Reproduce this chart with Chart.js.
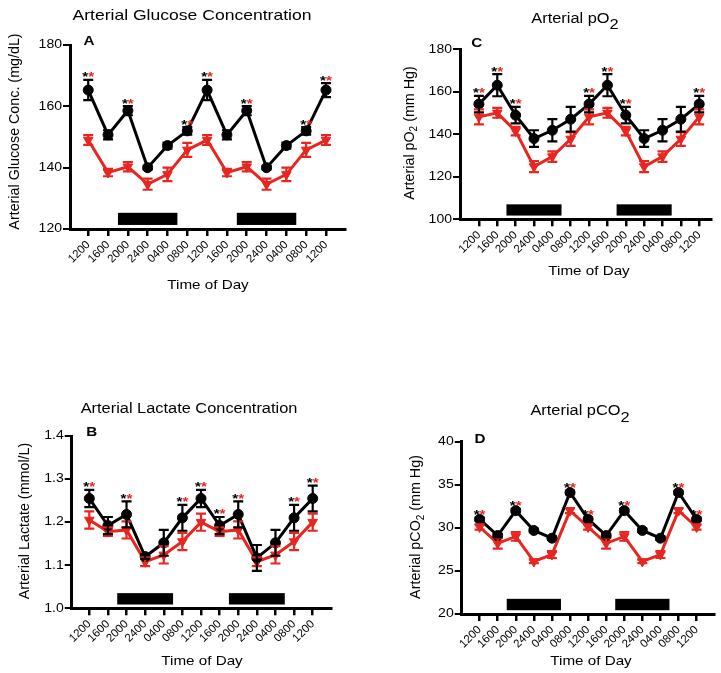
<!DOCTYPE html>
<html><head><meta charset="utf-8">
<script src="https://cdn.jsdelivr.net/npm/chart.js@4.4.1/dist/chart.umd.min.js"></script>
<style>
html,body{margin:0;padding:0;background:#fff;}
#wrap{position:relative;width:721px;height:673px;overflow:hidden;background:#fff;}
canvas{position:absolute;left:0;top:0;}
</style></head><body><div id="wrap"></div>
<script>
// ---------- DATA ----------
const timeLabels = ['1200','1600','2000','2400','0400','0800','1200','1600','2000','2400','0400','0800','1200'];
const darkStart = [1.5, 7.5];
const darkEnd   = [4.5, 10.5];

// A: Arterial glucose (mg/dL)
const glucoseBlack    = [165.3,150.7,158.6,140.0,147.2,152.0,165.3,150.7,158.6,140.0,147.2,152.0,165.3];
const glucoseBlackSem = [3.3,1.5,1.5,0.6,1.0,1.2,3.3,1.5,1.5,0.6,1.0,1.2,2.3];
const glucoseRed      = [149.0,138.4,140.3,134.6,137.8,145.8,149.0,138.4,140.3,134.6,137.8,145.8,149.0];
const glucoseRedSem   = [1.6,1.2,1.5,1.8,2.2,2.3,1.6,1.2,1.5,1.8,2.2,2.3,1.6];
const glucoseStars    = [0,2,5,6,8,11,12];
const glucoseTicks    = [120,140,160,180];

// B: Arterial lactate (mmol/L)
const lactateBlack    = [1.255,1.192,1.218,1.120,1.152,1.210,1.255,1.192,1.218,1.117,1.152,1.210,1.255];
const lactateBlackSem = [0.02,0.02,0.03,0.005,0.03,0.03,0.02,0.02,0.03,0.03,0.03,0.03,0.03];
const lactateRed      = [1.205,1.178,1.182,1.108,1.124,1.155,1.200,1.178,1.182,1.108,1.124,1.155,1.200];
const lactateRedSem   = [0.02,0.01,0.02,0.01,0.02,0.02,0.02,0.01,0.02,0.01,0.02,0.02,0.02];
const lactateStars    = [0,2,5,6,7,8,11,12];
const lactateTicks    = [1.0,1.1,1.2,1.3,1.4];

// C: Arterial pO2 (mm Hg)
const po2Black    = [154.2,163.1,149.0,138.0,141.9,147.1,154.2,163.1,149.0,138.0,141.9,147.1,154.2];
const po2BlackSem = [3.9,5.2,3.9,3.9,5.2,5.8,3.9,5.2,3.9,3.9,5.2,5.8,3.9];
const po2Red      = [148.2,150.1,141.5,124.8,129.5,137.8,148.2,150.1,141.5,124.8,129.5,137.8,148.2];
const po2RedSem   = [3.5,2.3,2.0,2.6,2.5,3.2,3.5,2.3,2.0,2.6,2.5,3.2,3.5];
const po2Stars    = [0,1,2,6,7,8,12];
const po2Ticks    = [100,120,140,160,180];

// D: Arterial pCO2 (mm Hg)
const pco2Black    = [31.0,29.1,32.0,29.7,28.8,34.1,31.0,29.1,32.0,29.7,28.8,34.1,31.0];
const pco2BlackSem = [0.2,0.2,0.2,0.2,0.2,0.2,0.2,0.2,0.2,0.2,0.2,0.2,0.2];
const pco2Red      = [30.1,28.2,29.0,26.1,26.9,32.0,30.1,28.2,29.0,26.1,26.9,32.0,30.1];
const pco2RedSem   = [0.3,0.6,0.5,0.2,0.4,0.3,0.3,0.6,0.5,0.2,0.4,0.3,0.3];
const pco2Stars    = [0,2,5,6,8,11,12];
const pco2Ticks    = [20,25,30,35,40];

// ---------- STYLE / RENDER ----------
const FONT = '"Liberation Sans", Arial, Helvetica, sans-serif';
const RED = '#e8261f';
const SX = 1.17; // horizontal stretch of upright text (reference is wide-scaled)

const origFill = CanvasRenderingContext2D.prototype.fillText;
CanvasRenderingContext2D.prototype.fillText = function(t, x, y, mw) {
  const m = this.getTransform();
  if (Math.abs(m.b) > 1e-6 || Math.abs(m.c) > 1e-6 || Math.abs(m.a - 1) > 1e-6) {
    return mw === undefined ? origFill.call(this, t, x, y) : origFill.call(this, t, x, y, mw);
  }
  this.save(); this.translate(x, y); this.scale(SX, 1);
  if (mw === undefined) origFill.call(this, t, 0, 0); else origFill.call(this, t, 0, 0, mw / SX);
  this.restore();
};

function fontStr(p) { return (p.bold ? 'bold ' : '') + p.size + 'px ' + FONT; }

function drawRich(ctx, parts, cx, cy, rot, sx) {
  ctx.save();
  ctx.translate(cx, cy);
  if (rot) ctx.rotate(rot);
  ctx.scale(sx, 1.0001);
  ctx.textBaseline = 'alphabetic'; ctx.textAlign = 'left';
  let total = 0;
  parts.forEach(p => { ctx.font = fontStr(p); p.w = ctx.measureText(p.t).width; total += p.w; });
  let x = -total / 2;
  parts.forEach(p => { ctx.font = fontStr(p); ctx.fillStyle = p.color || '#000'; origFill.call(ctx, p.t, x, p.dy || 0); x += p.w; });
  ctx.restore();
}

function drawErr(ctx, xs, ys, vals, errs, color) {
  ctx.save(); ctx.strokeStyle = color; ctx.lineWidth = 2.2;
  vals.forEach((v, i) => {
    const x = xs.getPixelForValue(i);
    const yt = ys.getPixelForValue(v + errs[i]), yb = ys.getPixelForValue(v - errs[i]);
    ctx.beginPath();
    ctx.moveTo(x, yt); ctx.lineTo(x, yb);
    ctx.moveTo(x - 5, yt); ctx.lineTo(x + 5, yt);
    ctx.moveTo(x - 5, yb); ctx.lineTo(x + 5, yb);
    ctx.stroke();
  });
  ctx.restore();
}

const panels = [
  { letter:'A', black:glucoseBlack, blackErr:glucoseBlackSem, red:glucoseRed, redErr:glucoseRedSem, stars:glucoseStars, yTicks:glucoseTicks, dec:0,
    L:70, R:345, T:45, B:229, xMin:-0.92, xMax:12.96,
    title:[{t:'Arterial Glucose Concentration'}], titleSize:15, titleX:192, titleY:19.5,
    yTitle:[{t:'Arterial Glucose Conc. (mg/dL)'}], yTitleX:18.5, yTitleY:131.5,
    xTitleX:208, xTitleY:288.6, letterX:89, letterY:45 },
  { letter:'B', black:lactateBlack, blackErr:lactateBlackSem, red:lactateRed, redErr:lactateRedSem, stars:lactateStars, yTicks:lactateTicks, dec:1,
    L:71.7, R:331.7, T:436, B:608.3, xMin:-0.945, xMax:13.02,
    title:[{t:'Arterial Lactate Concentration'}], titleSize:14, titleX:189, titleY:413.3,
    yTitle:[{t:'Arterial Lactate (mmol/L)'}], yTitleX:28.5, yTitleY:521,
    xTitleX:202, xTitleY:664.5, letterX:91.7, letterY:436 },
  { letter:'C', black:po2Black, blackErr:po2BlackSem, red:po2Red, redErr:po2RedSem, stars:po2Stars, yTicks:po2Ticks, dec:0,
    L:460, R:711.7, T:49.3, B:219.3, xMin:-1.03, xMax:12.68,
    title:[{t:'Arterial pO'},{t:'2', dy:6.5}], titleSize:14, titleX:575, titleY:22.5,
    yTitle:[{t:'Arterial pO'},{t:'2', size:10, dy:3.5},{t:' (mm Hg)'}], yTitleX:413.5, yTitleY:133,
    xTitleX:589, xTitleY:274.5, letterX:476.7, letterY:46.7 },
  { letter:'D', black:pco2Black, blackErr:pco2BlackSem, red:pco2Red, redErr:pco2RedSem, stars:pco2Stars, yTicks:pco2Ticks, dec:0,
    L:461.7, R:720, T:441.7, B:614, xMin:-0.99, xMax:12.99,
    title:[{t:'Arterial pCO'},{t:'2', dy:6.5}], titleSize:14, titleX:580, titleY:415,
    yTitle:[{t:'Arterial pCO'},{t:'2', size:10, dy:3.5},{t:' (mm Hg)'}], yTitleX:420, yTitleY:527,
    xTitleX:591, xTitleY:664.5, letterX:480, letterY:442.7 }
];

function makePanel(p) {
  const canvas = document.createElement('canvas');
  canvas.width = 721; canvas.height = 673;
  document.getElementById('wrap').appendChild(canvas);
  const XH = 60;
  const decor = {
    id: 'decor' + p.letter,
    beforeDatasetsDraw(chart) {
      const ctx = chart.ctx, xs = chart.scales.x, ys = chart.scales.y;
      ctx.save(); ctx.fillStyle = '#000';
      const h = ys.bottom - ys.top;
      for (let k = 0; k < darkStart.length; k++) {
        const x1 = xs.getPixelForValue(darkStart[k]), x2 = xs.getPixelForValue(darkEnd[k]);
        ctx.fillRect(x1, ys.bottom - 0.088 * h, x2 - x1, 0.066 * h);
      }
      ctx.restore();
    },
    afterDatasetsDraw(chart) {
      const ctx = chart.ctx, xs = chart.scales.x, ys = chart.scales.y;
      drawErr(ctx, xs, ys, p.red, p.redErr, RED);
      drawErr(ctx, xs, ys, p.black, p.blackErr, '#000');
      p.stars.forEach(i => {
        const top = Math.min(ys.getPixelForValue(p.black[i] + p.blackErr[i]), ys.getPixelForValue(p.red[i] + p.redErr[i]));
        drawRich(ctx, [{t:'*', size:13, bold:true, color:'#000'}, {t:'*', size:13, bold:true, color:RED}],
                 xs.getPixelForValue(i), top + 1.5, 0, SX);
      });
    },
    afterDraw(chart) {
      const ctx = chart.ctx;
      drawRich(ctx, p.title.map(q => Object.assign({size:p.titleSize}, q)), p.titleX, p.titleY, 0, SX);
      drawRich(ctx, [{t:p.letter, size:13, bold:true}], p.letterX, p.letterY, 0, SX);
      drawRich(ctx, p.yTitle.map(q => Object.assign({size:14.3}, q)), p.yTitleX, p.yTitleY, -Math.PI / 2, 1);
      drawRich(ctx, [{t:'Time of Day', size:13}], p.xTitleX, p.xTitleY, 0, SX);
    }
  };
  new Chart(canvas, {
    type: 'line',
    data: {
      datasets: [
        { data: p.black.map((v, i) => ({x:i, y:v})), borderColor:'#000', backgroundColor:'#000',
          borderWidth:3, tension:0, pointStyle:'circle', pointRadius:5, pointBackgroundColor:'#000', pointBorderColor:'#000', pointBorderWidth:1 },
        { data: p.red.map((v, i) => ({x:i, y:v})), borderColor:RED, backgroundColor:RED,
          borderWidth:3, tension:0, pointStyle:'triangle', rotation:180, pointRadius:5.5, pointBackgroundColor:RED, pointBorderColor:RED, pointBorderWidth:1 }
      ]
    },
    options: {
      responsive:false, animation:false, devicePixelRatio:1, events:[],
      layout: { padding: { left:0, top:p.T, right:721 - p.R, bottom:673 - p.B - XH } },
      plugins: { legend:{display:false}, tooltip:{enabled:false}, title:{display:false} },
      scales: {
        x: {
          type:'linear', min:p.xMin, max:p.xMax,
          afterFit: s => { s.height = XH; },
          afterBuildTicks: s => { s.ticks = timeLabels.map((_, i) => ({value:i})); },
          ticks: { callback: v => timeLabels[v], autoSkip:false, maxRotation:45, minRotation:45,
                   font:{family:FONT, size:11.5}, color:'#000', padding:2 },
          grid: { drawOnChartArea:false, tickLength:7, lineWidth:2.5, color:'#000' },
          border: { display:true, color:'#000', width:3 }
        },
        y: {
          type:'linear', min:p.yTicks[0], max:p.yTicks[p.yTicks.length - 1],
          afterFit: s => { s.width = p.L; },
          afterBuildTicks: s => { s.ticks = p.yTicks.map(v => ({value:v})); },
          ticks: { callback: v => Number(v).toFixed(p.dec), font:{family:FONT, size:12}, color:'#000', padding:1 },
          grid: { drawOnChartArea:false, tickLength:7, lineWidth:2, color:'#000' },
          border: { display:true, color:'#000', width:3 }
        }
      }
    },
    plugins: [decor]
  });
}
panels.forEach(makePanel);
</script></body></html>
